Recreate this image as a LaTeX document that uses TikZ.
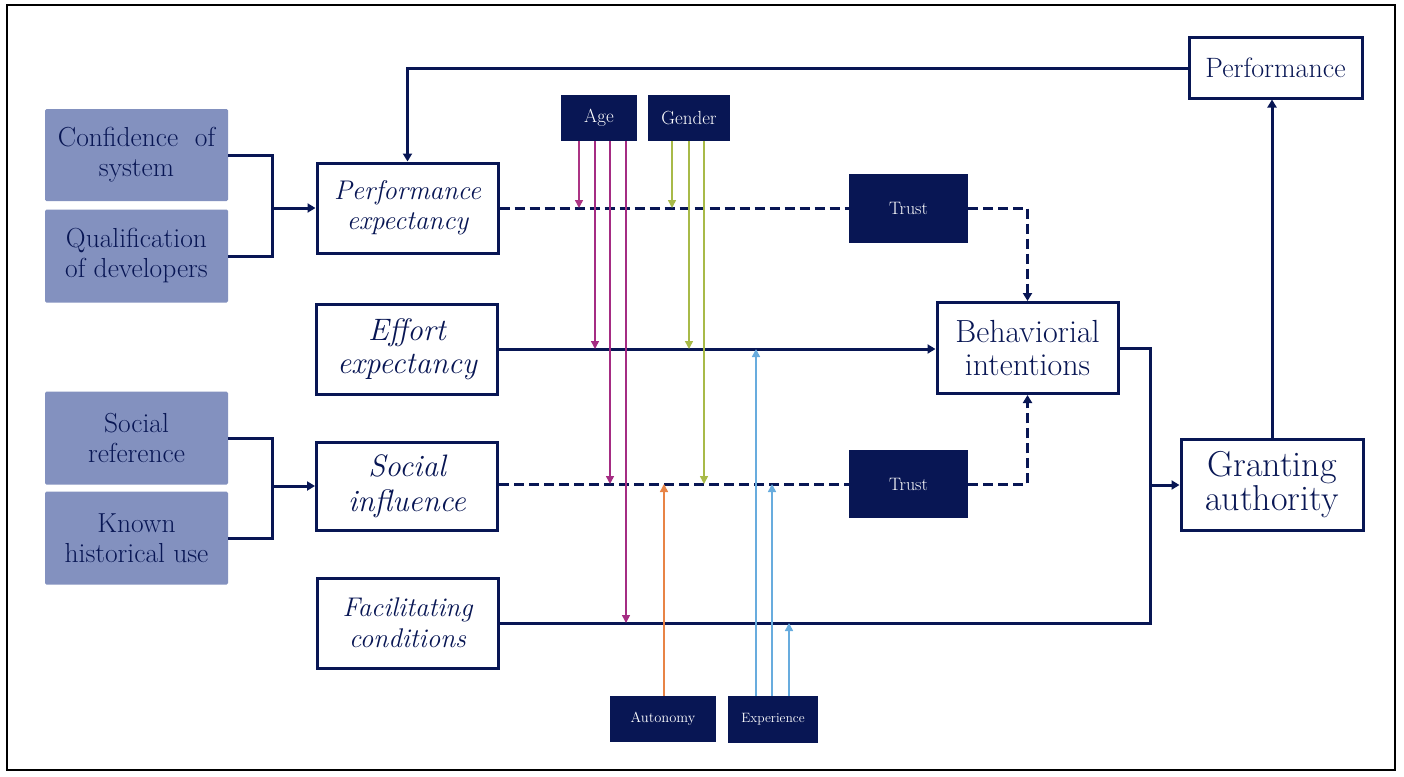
\documentclass[tikz,border=0pt]{standalone}
\usetikzlibrary{arrows.meta,calc}
\definecolor{navy}{RGB}{8,22,84}
\definecolor{lightfill}{RGB}{131,145,191}
\definecolor{agec}{RGB}{172,52,132}
\definecolor{genc}{RGB}{168,186,72}
\definecolor{autc}{RGB}{232,132,70}
\definecolor{expc}{RGB}{104,172,222}
\newcommand{\fs}[2]{\fontsize{#1}{#2}\selectfont}
\tikzset{
  box/.style={draw=navy, line width=3pt, fill=white, text=navy, align=center, inner sep=0pt},
  srcbox/.style={fill=lightfill, text=navy, align=center, inner sep=0pt, rounded corners=1.5pt},
  modbox/.style={fill=navy, text=white, align=center, inner sep=0pt},
  conn/.style={draw=navy, line width=3pt},
  arr/.style={conn, -{Triangle[width=9pt,length=8pt]}},
  dashconn/.style={conn, dash pattern=on 10pt off 5pt},
  mod/.style={draw=#1, line width=1.5pt, -{Triangle[width=8pt,length=8pt]}},
}
\begin{document}
\begin{tikzpicture}[x=1pt,y=-1pt]
\useasboundingbox (0,0) rectangle (1404,776);
\draw[black, line width=1.8pt] (7,5) rectangle (1395,770);

% source boxes
\node[srcbox, minimum width=183pt, minimum height=92pt, font=\fs{27.5}{30}] (conf) at (136.5,155) {Confidence\ \ of\\system};
\node[srcbox, minimum width=183pt, minimum height=93pt, font=\fs{27.5}{30}] (qual) at (136.5,256) {Qualification\\of developers};
\node[srcbox, minimum width=183pt, minimum height=93pt, font=\fs{27.5}{30}] (socr) at (136.5,438) {Social\\reference};
\node[srcbox, minimum width=183pt, minimum height=93pt, font=\fs{27.5}{30}] (known) at (136.5,538) {Known\\historical use};

% construct boxes
\node[box, minimum width=181pt, minimum height=90pt, font=\fs{27}{30}\itshape] (pe) at (407.5,208) {Performance\\expectancy};
\node[box, minimum width=181pt, minimum height=90pt, font=\fs{31}{33}\itshape] (ee) at (407,349) {Effort\\expectancy};
\node[box, minimum width=181pt, minimum height=88pt, font=\fs{31}{35}\itshape] (si) at (407,486) {Social\\influence};
\node[box, minimum width=181pt, minimum height=90pt, font=\fs{27}{31}\itshape] (fc) at (407.5,623) {Facilitating\\conditions};

\node[box, minimum width=181pt, minimum height=91pt, font=\fs{32}{33}] (bi) at (1027.5,348) {Behaviorial\\intentions};
\node[box, minimum width=182pt, minimum height=91pt, font=\fs{36}{34}] (ga) at (1272,485) {Granting\\authority};
\node[box, minimum width=173pt, minimum height=60pt, font=\fs{28}{30}] (perf) at (1275.5,68) {Performance};

% moderators
\node[modbox, minimum width=76pt, minimum height=46pt, font=\fs{19}{20}] (age) at (599,118) {Age};
\node[modbox, minimum width=82pt, minimum height=46pt, font=\fs{19}{20}] (gen) at (689,118) {Gender};
\node[modbox, minimum width=119pt, minimum height=69pt, font=\fs{18}{20}] (t1) at (908.5,208) {Trust};
\node[modbox, minimum width=119pt, minimum height=68pt, font=\fs{18}{20}] (t2) at (908.5,484) {Trust};
\node[modbox, minimum width=106pt, minimum height=46pt, font=\fs{14.5}{16}] (aut) at (663,719) {Autonomy};
\node[modbox, minimum width=90pt, minimum height=47pt, font=\fs{13.5}{16}] (exp) at (773,719.5) {Experience};

% brackets
\coordinate (b1) at (272,208);
\coordinate (b2) at (272,486);
\draw[conn] (conf.east) -| (b1);
\draw[conn] (qual.east) -| (b1);
\draw[arr] (b1) -- (b1 -| pe.west);
\draw[conn] (socr.east) -| (b2);
\draw[conn] (known.east) -| (b2);
\draw[arr] (b2) -- (b2 -| si.west);

% feedback
\draw[arr] (perf.west) -| (pe.north);

% main paths
\draw[dashconn] (pe.east) -- (pe.east -| t1.west);
\draw[dashconn, -{Triangle[width=9pt,length=8pt]}] (t1.east) -| (bi.north);
\draw[arr] (ee.east) -- (ee.east -| bi.west);
\draw[dashconn] (si.east |- t2.west) -- (t2.west);
\draw[dashconn, -{Triangle[width=9pt,length=8pt]}] (t2.east) -| (bi.south);

\coordinate (j) at (1150,485);
\draw[conn] (bi.east) -- (bi.east -| j) -- (j |- fc.east) -- (fc.east);
\draw[arr] (j) -- (ga.west);
\draw[arr] (ga.north) -- (ga.north |- perf.south);

% moderator arrows
\coordinate (a1) at (579,0);
\coordinate (a2) at (595,0);
\coordinate (a3) at (610,0);
\coordinate (a4) at (626,0);
\coordinate (g1) at (672,0);
\coordinate (g2) at (689,0);
\coordinate (g3) at (704,0);
\coordinate (o1) at (664,0);
\coordinate (e1) at (756,0);
\coordinate (e2) at (772,0);
\coordinate (e3) at (789,0);

\draw[mod=agec] (a1 |- age.south) -- (a1 |- pe.east);
\draw[mod=agec!85!violet] (a2 |- age.south) -- (a2 |- ee.east);
\draw[mod=agec!85!violet] (a3 |- age.south) -- (a3 |- t2.west);
\draw[mod=agec!85!violet] (a4 |- age.south) -- (a4 |- fc.east);
\draw[mod=genc] (g1 |- gen.south) -- (g1 |- pe.east);
\draw[mod=genc] (g2 |- gen.south) -- (g2 |- ee.east);
\draw[mod=genc] (g3 |- gen.south) -- (g3 |- t2.west);
\draw[mod=autc] (o1 |- aut.north) -- (o1 |- t2.west);
\draw[mod=expc] (e1 |- exp.north) -- (e1 |- ee.east);
\draw[mod=expc] (e2 |- exp.north) -- (e2 |- t2.west);
\draw[mod=expc] (e3 |- exp.north) -- (e3 |- fc.east);
\end{tikzpicture}
\end{document}
